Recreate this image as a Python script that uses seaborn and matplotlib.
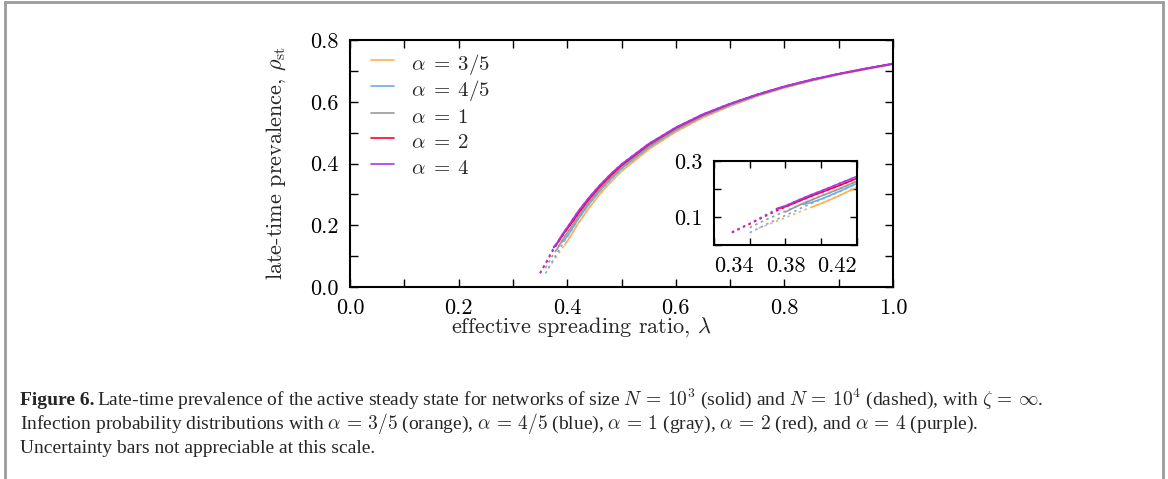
import numpy as np
import pandas as pd
import seaborn as sns
import matplotlib.pyplot as plt
from matplotlib.lines import Line2D

# lambda grid shared by every curve (None = no point at that lambda)
lam = [0.35, 0.355, 0.36, 0.365, 0.37, 0.375, 0.38, 0.385, 0.39, 0.395, 0.40,
       0.41, 0.42, 0.44, 0.46, 0.48, 0.50, 0.55, 0.60, 0.65, 0.70, 0.75,
       0.80, 0.85, 0.90, 0.95, 1.00]

alphas = ["3/5", "4/5", "1", "2", "4"]
colors = ["#ffb050", "#6caaf0", "#999999", "#ff0030", "#a838ec"]

# N = 10^4 (dashed)
rho_big = {
    "3/5": [None, None, None, 0.060, 0.072, 0.085, 0.098, 0.111, 0.124, 0.136, 0.148,
            0.176, 0.206, 0.256, 0.301, 0.340, 0.375, 0.446, 0.503, 0.549, 0.586, 0.618,
            0.645, 0.668, 0.688, 0.705, 0.721],
    "4/5": [None, None, 0.044, 0.060, 0.076, 0.091, 0.106, 0.120, 0.136, 0.150, 0.163,
            0.190, 0.220, 0.268, 0.311, 0.349, 0.383, 0.452, 0.508, 0.553, 0.589, 0.620,
            0.647, 0.669, 0.689, 0.706, 0.722],
    "1":   [None, None, 0.062, 0.078, 0.093, 0.107, 0.121, 0.135, 0.149, 0.162, 0.175,
            0.200, 0.228, 0.275, 0.317, 0.354, 0.388, 0.456, 0.511, 0.555, 0.591, 0.622,
            0.648, 0.670, 0.690, 0.707, 0.723],
    "2":   [0.044, 0.060, 0.075, 0.091, 0.107, 0.122, 0.136, 0.150, 0.163, 0.176, 0.188,
            0.212, 0.238, 0.284, 0.325, 0.361, 0.394, 0.461, 0.515, 0.558, 0.593, 0.623,
            0.649, 0.671, 0.690, 0.707, 0.723],
    "4":   [0.046, 0.062, 0.077, 0.094, 0.111, 0.127, 0.140, 0.154, 0.168, 0.181, 0.193,
            0.219, 0.245, 0.290, 0.330, 0.366, 0.398, 0.464, 0.517, 0.560, 0.594, 0.624,
            0.650, 0.672, 0.691, 0.708, 0.724],
}

# N = 10^3 (solid)
rho_small = {
    "3/5": [None] * 9 + [0.136, 0.148,
            0.176, 0.206, 0.256, 0.301, 0.340, 0.375, 0.446, 0.503, 0.549, 0.586, 0.618,
            0.645, 0.668, 0.688, 0.705, 0.721],
    "4/5": [None] * 8 + [0.145, 0.153, 0.164,
            0.191, 0.220, 0.268, 0.311, 0.349, 0.383, 0.452, 0.508, 0.553, 0.589, 0.620,
            0.647, 0.669, 0.689, 0.706, 0.722],
    "1":   [None] * 6 + [0.118, 0.134, 0.149, 0.162, 0.175,
            0.200, 0.228, 0.275, 0.317, 0.354, 0.388, 0.456, 0.511, 0.555, 0.591, 0.622,
            0.648, 0.670, 0.690, 0.707, 0.723],
    "2":   [None] * 5 + [0.128, 0.137, 0.150, 0.163, 0.176, 0.188,
            0.212, 0.238, 0.284, 0.325, 0.361, 0.394, 0.461, 0.515, 0.558, 0.593, 0.623,
            0.649, 0.671, 0.690, 0.707, 0.723],
    "4":   [None] * 5 + [0.130, 0.140, 0.154, 0.168, 0.181, 0.193,
            0.219, 0.245, 0.290, 0.330, 0.366, 0.398, 0.464, 0.517, 0.560, 0.594, 0.624,
            0.650, 0.672, 0.691, 0.708, 0.724],
}

rows = []
for a in alphas:
    for N, src in (("1e3", rho_small), ("1e4", rho_big)):
        for x, y in zip(lam, src[a]):
            if y is not None:
                rows.append({"lam": x, "rho": y, "alpha": a, "N": N})
df = pd.DataFrame(rows)

sns.set_style("ticks")
plt.rcParams["font.family"] = "serif"
plt.rcParams["font.serif"] = ["cmr10", "DejaVu Serif"]
plt.rcParams["mathtext.fontset"] = "cm"
plt.rcParams["axes.unicode_minus"] = False
plt.rcParams["axes.formatter.use_mathtext"] = True

pal = dict(zip(alphas, colors))
dash = {"1e3": "", "1e4": (1.5, 2.2)}

fig = plt.figure(figsize=(11.68, 4.79), dpi=100)
ax = fig.add_axes([0.2997, 0.4008, 0.4649, 0.5157])

# dashed first, solid on top
for N in ("1e4", "1e3"):
    sub = df[df["N"] == N]
    sns.lineplot(data=sub, x="lam", y="rho", hue="alpha", hue_order=alphas,
                 palette=pal, style="N", dashes=dash, estimator=None, sort=False,
                 legend=False, lw=1.2, ax=ax)

ax.set_xlim(0, 1)
ax.set_ylim(0, 0.8)
ax.set_xticks(np.arange(0, 1.01, 0.1))
ax.set_xticklabels(["0.0", "", "0.2", "", "0.4", "", "0.6", "", "0.8", "", "1.0"])
ax.set_yticks(np.arange(0, 0.81, 0.1))
ax.set_yticklabels(["0.0", "", "0.2", "", "0.4", "", "0.6", "", "0.8"])
ax.tick_params(direction="in", top=True, right=True, length=6, width=1,
               labelsize=16, pad=8, colors="black")
for s in ax.spines.values():
    s.set_linewidth(1.5)
    s.set_color("black")
ax.set_xlabel(r"effective spreading ratio, $\lambda$", fontsize=16)
ax.xaxis.set_label_coords(0.425, -0.115)
ax.set_ylabel(r"late-time prevalence, $\rho_{\mathrm{st}}$", fontsize=16, labelpad=16)

handles = [Line2D([], [], color=c, lw=1.2) for c in colors]
labels = [r"$\alpha\;=\;%s$" % a for a in alphas]
ax.legend(handles, labels, loc="upper left", bbox_to_anchor=(0.027, 0.985),
          frameon=False, fontsize=15, handlelength=1.1, handleheight=1.5,
          handletextpad=0.8, labelspacing=0.0, borderaxespad=0.0, borderpad=0.3)

# inset
ins = fig.add_axes([0.6113, 0.4885, 0.1224, 0.1754])
for N in ("1e4", "1e3"):
    sub = df[df["N"] == N]
    sns.lineplot(data=sub, x="lam", y="rho", hue="alpha", hue_order=alphas,
                 palette=pal, style="N", dashes=dash, estimator=None, sort=False,
                 legend=False, lw=1.2, ax=ins)
ins.set_xlim(0.34, 0.42)
ins.set_ylim(0, 0.3)
ins.set_xticks([0.34, 0.36, 0.38, 0.40, 0.42])
ins.set_xticklabels(["0.34", "", "0.38", "", "0.42"])
ins.set_yticks([0, 0.1, 0.2, 0.3])
ins.set_yticklabels(["", "0.1", "", "0.3"])
xl = ins.get_xticklabels()
xl[0].set_horizontalalignment("left")
xl[-1].set_horizontalalignment("right")
ins.tick_params(direction="in", top=True, right=True, length=5, width=1,
                labelsize=16, pad=8, colors="black")
ins.set_xlabel("")
ins.set_ylabel("")
for s in ins.spines.values():
    s.set_linewidth(1.5)
    s.set_color("black")

# page frame
fc = "#9a9a9a"
for xs, ys in (((0.0047, 0.0047), (0.0, 0.995)),
               ((0.0047, 0.9955), (0.995, 0.995)),
               ((0.9955, 0.9955), (0.0, 0.995))):
    fig.add_artist(Line2D(xs, ys, color=fc, lw=2, transform=fig.transFigure))

# caption
cap = dict(fontsize=14, fontfamily="Liberation Serif", va="baseline")
H = 479.0
fig.text(20 / 1168, 1 - 405 / H, "Figure 6.", fontweight="bold", **cap)
fig.text(97 / 1168, 1 - 405 / H,
         "Late-time prevalence of the active steady state for networks of size "
         r"$N\,=\,10^3$ (solid) and $N\,=\,10^4$ (dashed), with $\zeta\,=\,\infty$.",
         **cap)
fig.text(20 / 1168, 1 - 429 / H,
         r"Infection probability distributions with $\alpha\,=\,3/5$ (orange), "
         r"$\alpha\,=\,4/5$ (blue), $\alpha\,=\,1$ (gray), $\alpha\,=\,2$ (red), "
         r"and $\alpha\,=\,4$ (purple).", **cap)
fig.text(20 / 1168, 1 - 453 / H, "Uncertainty bars not appreciable at this scale.", **cap)

fig.savefig("out.png", dpi=100)
